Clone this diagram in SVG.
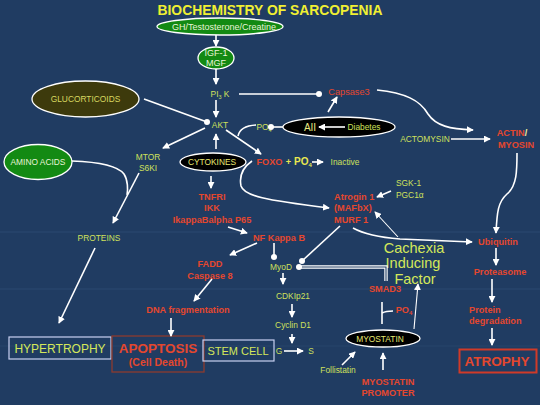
<svg xmlns="http://www.w3.org/2000/svg" width="540" height="405" viewBox="0 0 540 405">
<defs>
<marker id="ah" viewBox="0 0 8 8" refX="7" refY="4" markerWidth="7" markerHeight="7" markerUnits="userSpaceOnUse" orient="auto"><path d="M0,0 L8,4 L0,8 z" fill="#ffffff"/></marker>
<marker id="dot" viewBox="0 0 8 8" refX="4" refY="4" markerWidth="6" markerHeight="6" markerUnits="userSpaceOnUse"><circle cx="4" cy="4" r="4" fill="#ffffff"/></marker>
<style>
text{font-family:"Liberation Sans",Arial,sans-serif;text-anchor:middle}
.t{font-size:8.4px;fill:#cfe05c}
.r{font-size:9.2px;fill:#e4472e;font-weight:bold}
.w{font-size:8.4px;fill:#e8f4d8}
.e{stroke:#ffffff;stroke-width:1.3}
.c path,.c line{stroke:#ffffff;stroke-width:1.6;fill:none}
.thin{stroke-width:1.1!important}
</style>
</defs>
<rect x="0" y="0" width="540" height="405" fill="#203c62"/>
<line x1="0" y1="232" x2="540" y2="232" stroke="#2b4870" stroke-width="1"/>
<line x1="0" y1="289" x2="540" y2="289" stroke="#2b4870" stroke-width="1"/>
<line x1="0" y1="346" x2="540" y2="346" stroke="#27446b" stroke-width="1"/>

<text x="270" y="15" style="font-size:14px;font-weight:bold;fill:#f0f032" textLength="225" lengthAdjust="spacingAndGlyphs">BIOCHEMISTRY OF SARCOPENIA</text>

<g id="gh"><ellipse cx="220" cy="26.5" rx="63" ry="8.5" fill="#138a13" class="e"/><text x="224" y="29.5" class="w" style="font-size:9px">GH/Testosterone/Creatine</text></g>
<g id="igf"><ellipse cx="216" cy="58" rx="18" ry="11" fill="#138a13" class="e"/><text x="216" y="56" class="w" style="font-size:9px">IGF-1</text><text x="216" y="66" class="w" style="font-size:9px">MGF</text></g>
<g id="pi3k"><text x="220" y="97" class="t">PI<tspan style="font-size:5.5px" dy="2">3</tspan><tspan dy="-2"> K</tspan></text></g>
<g id="capsase3"><text x="349" y="95" class="r" style="font-weight:normal">Capsase3</text></g>
<g id="gluco"><ellipse cx="85.5" cy="99" rx="53.5" ry="18" fill="#3d3a0c" class="e"/><text x="85.5" y="102" class="t" style="fill:#d8d860">GLUCORTICOIDS</text></g>
<g id="akt"><text x="220" y="128" class="t">AKT</text></g>
<g id="po4a"><text x="264" y="130" class="t">PO<tspan style="font-size:5.5px" dy="2">4</tspan></text></g>
<g id="aii"><ellipse cx="339" cy="127" rx="56" ry="10" fill="#000000" class="e"/><text x="310" y="131" class="t" style="font-size:10px;fill:#e8e880">AII</text><text x="364" y="130" class="t">Diabetes</text></g>
<g id="actomysin"><text x="425" y="142" class="t">ACTOMYSIN</text></g>
<g id="actin"><text x="512" y="136" class="r">ACTIN<tspan style="fill:#f0f0a0">/</tspan></text><text x="516" y="148" class="r">MYOSIN</text></g>
<g id="amino"><ellipse cx="38" cy="162" rx="34" ry="17.5" fill="#138a13" class="e"/><text x="38" y="165" class="w">AMINO ACIDS</text></g>
<g id="mtor"><text x="148" y="160" class="t">MTOR</text><text x="148" y="171" class="t">S6KI</text></g>
<g id="cytokines"><ellipse cx="213" cy="162" rx="33" ry="9" fill="#000000" class="e"/><text x="212" y="165" class="t" style="fill:#e8e870">CYTOKINES</text></g>
<g id="foxo"><text x="269.5" y="165" class="r">FOXO</text><text x="288.5" y="165" class="r" style="fill:#e8e850">+</text><text x="303" y="165" class="r" style="fill:#e8e850;font-size:10px">PO<tspan style="font-size:6px" dy="2">4</tspan></text></g>
<g id="inactive"><text x="345" y="165" class="t">Inactive</text></g>
<g id="sgk"><text x="396" y="186" class="t" style="text-anchor:start">SGK-1</text><text x="396" y="198" class="t" style="text-anchor:start">PGC1α</text></g>
<g id="atrogin"><text x="334" y="200" class="r" style="text-anchor:start">Atrogin 1</text><text x="334" y="211" class="r" style="text-anchor:start">(MAFbX)</text><text x="334" y="223" class="r" style="text-anchor:start">MURF 1</text></g>
<g id="tnfri"><text x="212" y="200" class="r">TNFRI</text><text x="212" y="211" class="r">IKK</text><text x="212" y="223" class="r">IkappaBalpha P65</text></g>
<g id="proteins"><text x="99" y="241" class="t">PROTEINS</text></g>
<g id="nfkb"><text x="279" y="241" class="r">NF Kappa B</text></g>
<g id="ubiquitin"><text x="498" y="245" class="r">Ubiquitin</text></g>
<g id="cachexia"><text x="414" y="253" style="font-size:14.5px;fill:#d4e85a">Cachexia</text><text x="413" y="268" style="font-size:14.5px;fill:#d4e85a">Inducing</text><text x="415" y="284" style="font-size:14.5px;fill:#d4e85a">Factor</text></g>
<g id="fadd"><text x="210" y="267" class="r">FADD</text><text x="210" y="279" class="r">Caspase 8</text></g>
<g id="myod"><text x="281" y="270" class="t">MyoD</text></g>
<g id="proteasome"><text x="500" y="275" class="r">Proteasome</text></g>
<g id="smad3"><text x="385" y="292" class="r">SMAD3</text></g>
<g id="cdkip21"><text x="293" y="299" class="t">CDKIp21</text></g>
<g id="po4b"><text x="404" y="313" class="r">PO<tspan style="font-size:6px" dy="2">4</tspan></text></g>
<g id="dna"><text x="188" y="313" class="r">DNA fragmentation</text></g>
<g id="protdeg"><text x="469" y="313" class="r" style="text-anchor:start">Protein</text><text x="469" y="324" class="r" style="text-anchor:start">degradation</text></g>
<g id="cyclin"><text x="293" y="328" class="t">Cyclin D1</text></g>
<g id="myostatin"><ellipse cx="383" cy="338.5" rx="37" ry="8.5" fill="#000000" class="e"/><text x="380" y="341.5" class="t" style="fill:#e8e870">MYOSTATIN</text></g>
<g id="hypertrophy"><rect x="9" y="337" width="102" height="22" fill="none" stroke="#c8d0f0" stroke-width="1.2"/><text x="60" y="352.5" style="font-size:12px;fill:#d4e85a">HYPERTROPHY</text></g>
<g id="apoptosis"><rect x="112" y="336" width="92" height="36" fill="none" stroke="#8c3b2e" stroke-width="1.3"/><text x="158" y="353" class="r" style="font-size:13.5px">APOPTOSIS</text><text x="158" y="366" class="r" style="font-size:10.5px">(Cell Death)</text></g>
<g id="stemcell"><rect x="203" y="340" width="71" height="21" fill="none" stroke="#c8d0f0" stroke-width="1.2"/><text x="238" y="355" style="font-size:11px;fill:#d4e85a">STEM CELL</text></g>
<g id="gs"><text x="279" y="354" class="t">G</text><text x="311" y="354" class="t">S</text></g>
<g id="atrophy"><rect x="459.5" y="349.5" width="77" height="23" fill="none" stroke="#d03a28" stroke-width="2"/><text x="497" y="366" class="r" style="font-size:13.5px">ATROPHY</text></g>
<g id="follistatin"><text x="338" y="373" class="t">Follistatin</text></g>
<g id="promoter"><text x="388" y="385" class="r">MYOSTATIN</text><text x="388" y="396" class="r">PROMOTER</text></g>

<g class="c" id="connectors">
<line x1="216" y1="35" x2="216" y2="46" marker-end="url(#ah)"/>
<line x1="216" y1="69" x2="216" y2="84" marker-end="url(#ah)"/>
<line x1="239" y1="94" x2="319" y2="94" marker-end="url(#dot)"/>
<line x1="216" y1="100" x2="216" y2="117" marker-end="url(#ah)"/>
<line x1="144" y1="99" x2="207" y2="122" marker-end="url(#dot)"/>
<line x1="205" y1="128" x2="163" y2="148" marker-end="url(#ah)"/>
<line x1="216" y1="149" x2="216" y2="134" marker-end="url(#ah)"/>
<line x1="226" y1="130" x2="261" y2="154" marker-end="url(#ah)"/>
<path d="M238,136 Q240,126 256,125"/>
<line x1="283" y1="127" x2="271" y2="127" marker-end="url(#dot)"/>
<line x1="345" y1="127" x2="319" y2="127" marker-end="url(#ah)"/>
<line x1="328" y1="112" x2="337" y2="97" marker-end="url(#ah)"/>
<path d="M377,90 C405,93 420,100 428,114 C436,126 450,129 473,130" marker-end="url(#ah)"/>
<line x1="451" y1="139" x2="490" y2="139" marker-end="url(#ah)"/>
<path d="M517,153 C517,170 517,186 507,194 C498,202 497,212 496,233" marker-end="url(#ah)"/>
<line x1="496" y1="248" x2="496" y2="265" marker-end="url(#ah)"/>
<line x1="492" y1="279" x2="492" y2="302" marker-end="url(#ah)"/>
<line x1="492" y1="328" x2="492" y2="345" marker-end="url(#ah)"/>
<path d="M353,228 C362,233 375,237 400,239 L472,242" marker-end="url(#ah)"/>
<line x1="391" y1="191" x2="377" y2="197" marker-end="url(#ah)"/>
<path d="M252,161 C242,168 239,176 241,186 C244,196 265,200 329,208" marker-end="url(#ah)"/>
<line x1="312" y1="162" x2="323" y2="162" marker-end="url(#ah)"/>
<line x1="139" y1="173" x2="113" y2="223" marker-end="url(#ah)"/>
<path d="M72,161 C100,162 118,166 124,174 C128,180 128,190 127,195"/>
<line x1="95" y1="248" x2="59" y2="323" marker-end="url(#ah)"/>
<line x1="211" y1="176" x2="211" y2="188" marker-end="url(#ah)"/>
<line x1="228" y1="227" x2="247" y2="233" marker-end="url(#ah)"/>
<line x1="274" y1="243" x2="274" y2="257" marker-end="url(#dot)"/>
<line x1="257" y1="243" x2="230" y2="255" marker-end="url(#ah)"/>
<line x1="212" y1="279" x2="194" y2="301" marker-end="url(#ah)"/>
<line x1="171" y1="318" x2="171" y2="336" marker-end="url(#ah)"/>
<line x1="340" y1="226" x2="302" y2="261" marker-end="url(#dot)"/>
<line x1="283" y1="273" x2="283" y2="284" marker-end="url(#ah)"/>
<line x1="292" y1="304" x2="292" y2="317" marker-end="url(#ah)"/>
<line x1="292" y1="334" x2="292" y2="343" marker-end="url(#ah)"/>
<line x1="284" y1="351" x2="303" y2="351" marker-end="url(#ah)"/>
<path d="M299,267 H386 V281" style="stroke-width:3.4"/>
<path d="M299,267 H386 V281" style="stroke:#203c62;stroke-width:1.1"/>
<circle cx="299" cy="267" r="3" fill="#ffffff"/>
<line x1="382" y1="302" x2="382" y2="324"/>
<path d="M382,313 Q386,311 393,311"/>
<line x1="414" y1="329" x2="418" y2="284" class="thin" marker-end="url(#ah)"/>
<line x1="398" y1="237" x2="375" y2="212" class="thin" marker-end="url(#ah)"/>
<line x1="342" y1="365" x2="355" y2="352" marker-end="url(#ah)"/>
<line x1="383" y1="370" x2="383" y2="353" marker-end="url(#ah)"/>
</g>
</svg>
